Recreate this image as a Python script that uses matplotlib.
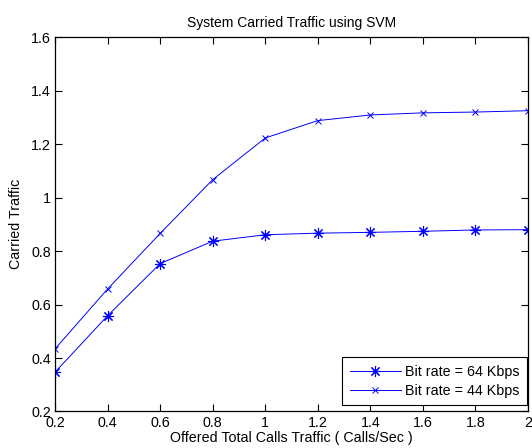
import numpy as np
import matplotlib
matplotlib.use('Agg')
import matplotlib.pyplot as plt

# offered traffic (calls/sec)
offered = [0.2, 0.4, 0.6, 0.8, 1.0, 1.2, 1.4, 1.6, 1.8, 2.0]
# carried traffic
carried_64 = [0.347, 0.558, 0.753, 0.837, 0.861, 0.867, 0.870, 0.874, 0.879, 0.880]
carried_44 = [0.434, 0.658, 0.866, 1.067, 1.223, 1.288, 1.309, 1.317, 1.320, 1.325]
labels = ['Bit rate = 64 Kbps', 'Bit rate = 44 Kbps']

plt.rcParams['font.family'] = ['Liberation Sans', 'DejaVu Sans']
plt.rcParams['font.size'] = 10.3

fig = plt.figure(figsize=(5.32, 4.48), dpi=100)
ax = fig.add_axes([0.1034, 0.0815, 0.8891, 0.8355])

# MATLAB style asterisk = plus and cross together
ax.plot(offered, carried_64, color='b', lw=0.7, marker=(8, 2, 0), ms=8, mew=0.8, label=labels[0])
ax.plot(offered, carried_44, color='b', lw=0.7, marker='x', ms=5, mew=0.7, label=labels[1])

ax.set_xlim(0.2, 2)
ax.set_ylim(0.2, 1.6)
ax.set_xticks(np.arange(0.2, 2.01, 0.2))
ax.set_xticklabels(['0.2', '0.4', '0.6', '0.8', '1', '1.2', '1.4', '1.6', '1.8', '2'])
ax.set_yticks(np.arange(0.2, 1.61, 0.2))
ax.set_yticklabels(['0.2', '0.4', '0.6', '0.8', '1', '1.2', '1.4', '1.6'])
ax.tick_params(direction='in', top=True, right=True, length=5, width=0.8, pad=3)
for s in ax.spines.values():
    s.set_linewidth(0.9)

ax.set_title('System Carried Traffic using SVM', fontsize=10, pad=7)
ax.set_xlabel('Offered Total Calls Traffic ( Calls/Sec )', labelpad=1)
ax.set_ylabel('Carried Traffic', labelpad=6)

leg = ax.legend(loc='lower right', bbox_to_anchor=(0.998, 0.016), borderaxespad=0,
                fancybox=False, edgecolor='k', framealpha=1,
                handlelength=3.6, borderpad=0.5, labelspacing=0.4,
                handletextpad=0.3, fontsize=10.3)
leg.get_frame().set_linewidth(0.8)

plt.savefig('out.png', dpi=100)
